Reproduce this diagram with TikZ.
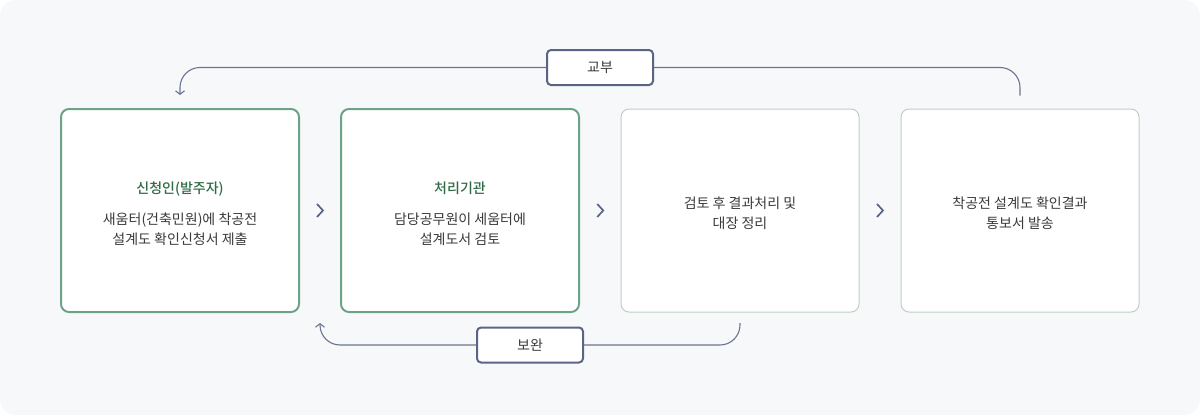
\documentclass[tikz,border=0pt]{standalone}
\usepackage{fontspec}
\setmainfont{Noto Sans CJK KR}
\newfontfamily\medfont{Noto Sans CJK KR Medium}
\usepackage{tikz}
\usetikzlibrary{positioning,arrows.meta,calc}

\definecolor{bgc}{HTML}{F7F8FA}
\definecolor{dark}{HTML}{5A6486}
\definecolor{strong}{HTML}{6FA387}
\definecolor{soft}{HTML}{B9D2C3}
\definecolor{ttl}{HTML}{2F6B47}
\definecolor{txt}{HTML}{3A3A3A}

\begin{document}
\begin{tikzpicture}[x=1pt,y=-1pt]
	\tikzset{
		box/.style={draw=soft,line width=1pt,fill=white,rounded corners=8pt,
			minimum width=238pt,minimum height=203pt},
		boxon/.style={box,draw=strong,line width=2pt},
		info/.style={align=center,text=txt,font=\fontsize{14}{20}\selectfont},
		tag/.style={draw=dark,line width=2pt,fill=white,rounded corners=4pt,
			minimum width=106pt,minimum height=35pt,text=txt,
			font=\fontsize{14}{16}\selectfont},
		flow/.style={draw=dark!90,line width=1.1pt,rounded corners=20pt,
			-{Straight Barb[length=3.5pt,width=9pt]}},
		chev/.style={draw=dark,line width=1.7pt}
	}
	\fill[bgc,rounded corners=16pt] (0,0) rectangle (1200,415);
	\node[boxon] (s1) at (180,210.5) {};
	\node[boxon] (s2) at (460,210.5) {};
	\node[box] (s3) at (740,210.5) {};
	\node[box] (s4) at (1020,210.5) {};
	\node[info] (t1) at ([yshift=-3pt]s1.center) {{\medfont\color{ttl}신청인(발주자)}\\[11pt]새움터(건축민원)에 착공전\\설계도 확인신청서 제출};
	\node[info] (t2) at ([yshift=-3pt]s2.center) {{\medfont\color{ttl}처리기관}\\[11pt]담당공무원이 세움터에\\설계도서 검토};
	\node[info] (t3) at ([yshift=-3pt]s3.center) {검토 후 결과처리 및\\대장 정리};
	\node[info] (t4) at ([yshift=-3pt]s4.center) {착공전 설계도 확인결과\\통보서 발송};
	% chevrons between the boxes
	\foreach \a/\b in {s1/s2,s2/s3,s3/s4}
		\draw[chev] ($(\a.east)!.5!(\b.west)+(-3,-6.5)$) -- ++(6,6.5) -- ++(-6,6.5);
	\coordinate (back) at ($(s1.east)!.5!(s2.west)+(0,112.5)$);
	\path[flow]
		([yshift=13pt]s4.north) -- ++(0,-28) -| node[tag,pos=.25] {교부} ([yshift=13pt]s1.north);
	\path[flow]
		([yshift=-10.5pt]s3.south) -- ++(0,22) -| node[tag,pos=.25] {보완} (back);
\end{tikzpicture}
\end{document}
